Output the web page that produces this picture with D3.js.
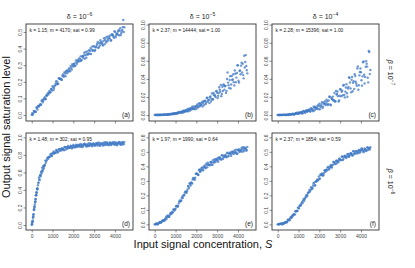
<!DOCTYPE html>
<html>
<head>
<meta charset="utf-8">
<script src="https://cdn.jsdelivr.net/npm/d3@7"></script>
<style>
  body { margin: 0; background: #fff; }
  text { font-family: "Liberation Sans", Arial, sans-serif; }
</style>
</head>
<body>
<svg id="chart" width="415" height="268"></svg>
<script>
// input signal concentration S (shared by all panels)
const inputS = [0,50,100,150,200,250,300,350,400,450,500,550,600,650,700,750,800,850,900,950,
  1000,1050,1100,1150,1200,1250,1300,1350,1400,1450,1500,1550,1600,1650,1700,1750,1800,1850,1900,1950,
  2000,2050,2100,2150,2200,2250,2300,2350,2400,2450,2500,2550,2600,2650,2700,2750,2800,2850,2900,2950,
  3000,3050,3100,3150,3200,3250,3300,3350,3400,3450,3500,3550,3600,3650,3700,3750,3800,3850,3900,3950,
  4000,4050,4100,4150,4200,4250,4300,4350,4400,4450];
// second run, read between the first run's points
const midS = [25,75,125,175,225,275,325,375,425,475,525,575,625,675,725,775,825,875,925,975,
  1025,1075,1125,1175,1225,1275,1325,1375,1425,1475,1525,1575,1625,1675,1725,1775,1825,1875,1925,1975,
  2025,2075,2125,2175,2225,2275,2325,2375,2425,2475,2525,2575,2625,2675,2725,2775,2825,2875,2925,2975,
  3025,3075,3125,3175,3225,3275,3325,3375,3425,3475,3525,3575,3625,3675,3725,3775,3825,3875,3925,3975,
  4025,4075,4125,4175,4225,4275,4325,4375,4425];

// output saturation level, one array per panel and run
const satA = [0.002,0.002,0.025,0.021,0.019,0.042,0.053,0.051,0.064,0.062,0.090,0.085,0.099,0.095,0.119,0.121,0.124,0.145,0.137,0.155,
  0.174,0.151,0.177,0.190,0.185,0.187,0.221,0.218,0.218,0.212,0.244,0.233,0.250,0.266,0.251,0.263,0.282,0.263,0.285,0.306,
  0.292,0.311,0.297,0.317,0.331,0.325,0.323,0.353,0.332,0.354,0.358,0.339,0.380,0.364,0.364,0.391,0.386,0.367,0.412,0.391,
  0.412,0.392,0.411,0.430,0.403,0.432,0.450,0.430,0.425,0.446,0.426,0.466,0.444,0.459,0.473,0.460,0.447,0.487,0.483,0.465,
  0.502,0.479,0.490,0.503,0.480,0.522,0.492,0.512,0.572,0.528];
const satA2 = [0.011,0.010,0.021,0.020,0.045,0.033,0.055,0.058,0.063,0.085,0.076,0.095,0.107,0.098,0.114,0.131,0.134,0.136,0.157,0.147,
  0.167,0.162,0.177,0.203,0.200,0.189,0.220,0.216,0.212,0.237,0.231,0.258,0.234,0.259,0.272,0.262,0.272,0.295,0.274,0.298,
  0.306,0.295,0.328,0.309,0.322,0.340,0.336,0.327,0.353,0.345,0.375,0.361,0.345,0.383,0.371,0.369,0.403,0.395,0.386,0.415,
  0.385,0.407,0.421,0.440,0.408,0.419,0.440,0.437,0.418,0.462,0.452,0.437,0.472,0.449,0.463,0.479,0.451,0.481,0.473,0.503,
  0.468,0.491,0.485,0.510,0.508,0.481,0.503,0.528,0.500];
const satB = [0.0002,0.0000,0.0001,0.0003,0.0000,0.0000,0.0003,0.0000,0.0003,0.0006,0.0002,0.0006,0.0003,0.0007,0.0011,0.0008,0.0008,0.0018,0.0010,0.0018,
  0.0020,0.0014,0.0029,0.0023,0.0024,0.0035,0.0035,0.0026,0.0051,0.0039,0.0053,0.0041,0.0055,0.0070,0.0050,0.0073,0.0091,0.0074,0.0070,0.0091,
  0.0070,0.0116,0.0091,0.0111,0.0130,0.0113,0.0095,0.0155,0.0152,0.0123,0.0188,0.0149,0.0169,0.0196,0.0150,0.0238,0.0174,0.0220,0.0212,0.0262,
  0.0247,0.0213,0.0308,0.0257,0.0209,0.0313,0.0339,0.0281,0.0323,0.0267,0.0470,0.0329,0.0387,0.0293,0.0431,0.0393,0.0364,0.0493,0.0364,0.0465,
  0.0549,0.0360,0.0494,0.0546,0.0470,0.0442,0.0656,0.0587,0.0542,0.0461];
const satB2 = [0.0002,0.0000,0.0001,0.0000,0.0004,0.0000,0.0003,0.0002,0.0002,0.0006,0.0002,0.0006,0.0009,0.0003,0.0007,0.0013,0.0012,0.0011,0.0020,0.0011,
  0.0021,0.0017,0.0023,0.0035,0.0032,0.0024,0.0042,0.0039,0.0034,0.0051,0.0044,0.0066,0.0041,0.0063,0.0075,0.0061,0.0070,0.0095,0.0065,0.0094,
  0.0102,0.0083,0.0132,0.0096,0.0114,0.0144,0.0134,0.0111,0.0159,0.0138,0.0192,0.0165,0.0132,0.0205,0.0178,0.0170,0.0243,0.0225,0.0199,0.0267,
  0.0189,0.0243,0.0279,0.0332,0.0234,0.0266,0.0330,0.0318,0.0245,0.0399,0.0359,0.0298,0.0430,0.0337,0.0387,0.0451,0.0327,0.0457,0.0414,0.0552,
  0.0379,0.0487,0.0451,0.0579,0.0568,0.0406,0.0525,0.0663,0.0495];
const satC = [0.0001,0.0000,0.0000,0.0002,0.0000,0.0002,0.0005,0.0002,0.0001,0.0004,0.0000,0.0009,0.0005,0.0009,0.0013,0.0010,0.0006,0.0019,0.0019,0.0013,
  0.0028,0.0019,0.0025,0.0033,0.0021,0.0046,0.0028,0.0043,0.0041,0.0057,0.0053,0.0042,0.0076,0.0059,0.0043,0.0081,0.0092,0.0070,0.0088,0.0065,
  0.0126,0.0092,0.0117,0.0077,0.0138,0.0122,0.0110,0.0171,0.0111,0.0160,0.0202,0.0109,0.0177,0.0204,0.0164,0.0150,0.0266,0.0232,0.0209,0.0160,
  0.0285,0.0208,0.0270,0.0327,0.0221,0.0259,0.0341,0.0202,0.0310,0.0412,0.0294,0.0389,0.0263,0.0375,0.0452,0.0369,0.0324,0.0537,0.0329,0.0476,
  0.0474,0.0325,0.0584,0.0446,0.0422,0.0595,0.0536,0.0361,0.0698,0.0498];
const satC2 = [0.0002,0.0001,0.0000,0.0002,0.0000,0.0004,0.0002,0.0000,0.0005,0.0003,0.0002,0.0010,0.0009,0.0006,0.0014,0.0006,0.0013,0.0018,0.0025,0.0013,
  0.0018,0.0028,0.0028,0.0017,0.0043,0.0038,0.0028,0.0053,0.0037,0.0047,0.0062,0.0038,0.0067,0.0059,0.0092,0.0053,0.0080,0.0072,0.0107,0.0106,
  0.0064,0.0099,0.0141,0.0092,0.0128,0.0154,0.0127,0.0149,0.0119,0.0203,0.0118,0.0191,0.0174,0.0161,0.0244,0.0153,0.0227,0.0260,0.0149,0.0213,
  0.0282,0.0257,0.0219,0.0333,0.0195,0.0305,0.0241,0.0294,0.0416,0.0360,0.0251,0.0420,0.0357,0.0289,0.0432,0.0347,0.0515,0.0280,0.0439,0.0514,
  0.0384,0.0428,0.0592,0.0348,0.0534,0.0566,0.0412,0.0709,0.0453];
const satD = [0.003,0.051,0.175,0.236,0.341,0.413,0.454,0.542,0.568,0.602,0.655,0.673,0.677,0.735,0.730,0.762,0.755,0.780,0.805,0.787,
  0.819,0.839,0.825,0.823,0.845,0.828,0.866,0.847,0.863,0.876,0.865,0.852,0.889,0.886,0.869,0.902,0.880,0.889,0.900,0.878,
  0.915,0.886,0.902,0.898,0.914,0.907,0.893,0.924,0.905,0.889,0.919,0.924,0.905,0.915,0.899,0.935,0.911,0.923,0.899,0.929,
  0.919,0.911,0.935,0.908,0.925,0.940,0.903,0.925,0.933,0.917,0.912,0.946,0.933,0.925,0.909,0.941,0.919,0.933,0.944,0.919,
  0.926,0.941,0.911,0.931,0.949,0.925,0.941,0.917,0.935,0.946];
const satD2 = [0.034,0.100,0.196,0.268,0.372,0.406,0.484,0.523,0.556,0.613,0.614,0.657,0.685,0.709,0.741,0.771,0.776,0.778,0.811,0.791,
  0.820,0.813,0.829,0.856,0.850,0.835,0.866,0.859,0.851,0.875,0.865,0.890,0.860,0.883,0.893,0.878,0.884,0.904,0.876,0.898,
  0.902,0.886,0.917,0.891,0.900,0.916,0.907,0.893,0.916,0.904,0.927,0.912,0.895,0.924,0.911,0.905,0.930,0.921,0.910,0.931,
  0.904,0.918,0.927,0.939,0.910,0.917,0.931,0.926,0.906,0.941,0.930,0.914,0.941,0.919,0.928,0.938,0.913,0.936,0.926,0.948,
  0.916,0.933,0.925,0.943,0.940,0.914,0.930,0.949,0.923];
// extra readings on the steep rise of panel (d)
const riseS = [10,20,30,40,60,70,80,90,110,120,130,140,160,170,180,190,210,220,230,240,260,280,320,370,420,470,520,570,620];
const riseD = [0.012,0.009,0.038,0.035,0.084,0.088,0.121,0.122,0.172,0.178,0.212,0.210,0.263,0.262,0.297,0.294,0.341,0.339,0.372,0.368,
  0.410,0.419,0.481,0.512,0.568,0.586,0.632,0.642,0.680];
const satE = [0.000,0.000,0.007,0.001,0.009,0.017,0.011,0.021,0.027,0.028,0.028,0.053,0.052,0.054,0.052,0.075,0.071,0.087,0.102,0.096,
  0.108,0.127,0.121,0.143,0.164,0.161,0.182,0.181,0.202,0.220,0.223,0.228,0.265,0.250,0.278,0.289,0.282,0.320,0.314,0.322,
  0.349,0.350,0.340,0.378,0.367,0.387,0.374,0.390,0.406,0.387,0.410,0.425,0.411,0.408,0.425,0.411,0.442,0.426,0.439,0.450,
  0.441,0.432,0.463,0.460,0.448,0.476,0.460,0.468,0.479,0.462,0.494,0.472,0.488,0.485,0.501,0.497,0.486,0.512,0.498,0.486,
  0.512,0.518,0.504,0.514,0.501,0.532,0.514,0.525,0.508,0.533];
const satE2 = [0.000,0.007,0.000,0.007,0.013,0.012,0.017,0.027,0.023,0.034,0.042,0.038,0.062,0.052,0.064,0.079,0.082,0.081,0.102,0.102,
  0.125,0.127,0.127,0.155,0.157,0.165,0.191,0.197,0.202,0.226,0.217,0.241,0.260,0.283,0.268,0.285,0.309,0.314,0.307,0.349,
  0.348,0.341,0.373,0.361,0.376,0.392,0.373,0.398,0.394,0.419,0.394,0.413,0.410,0.430,0.430,0.411,0.429,0.449,0.430,0.447,
  0.458,0.448,0.457,0.448,0.477,0.451,0.474,0.470,0.468,0.491,0.469,0.488,0.496,0.472,0.488,0.503,0.498,0.492,0.514,0.489,
  0.510,0.499,0.509,0.529,0.520,0.504,0.530,0.521,0.512];
const satF = [0.000,0.001,0.004,0.003,0.000,0.009,0.006,0.011,0.017,0.016,0.034,0.028,0.042,0.046,0.061,0.064,0.067,0.090,0.090,0.092,
  0.115,0.128,0.130,0.145,0.148,0.175,0.176,0.192,0.192,0.216,0.222,0.227,0.255,0.244,0.268,0.288,0.270,0.295,0.309,0.307,
  0.312,0.344,0.342,0.344,0.341,0.371,0.362,0.378,0.393,0.381,0.392,0.409,0.392,0.412,0.431,0.419,0.435,0.422,0.439,0.452,
  0.445,0.443,0.469,0.449,0.468,0.470,0.457,0.484,0.473,0.473,0.491,0.487,0.474,0.504,0.489,0.503,0.489,0.501,0.513,0.495,
  0.513,0.524,0.510,0.506,0.519,0.505,0.530,0.514,0.524,0.532];
const satF2 = [0.000,0.000,0.003,0.007,0.001,0.005,0.012,0.014,0.013,0.027,0.031,0.030,0.051,0.047,0.058,0.072,0.069,0.090,0.094,0.115,
  0.110,0.129,0.136,0.156,0.165,0.163,0.182,0.202,0.201,0.219,0.237,0.237,0.252,0.251,0.284,0.268,0.295,0.298,0.303,0.330,
  0.316,0.338,0.351,0.335,0.354,0.373,0.373,0.372,0.396,0.379,0.401,0.396,0.408,0.430,0.426,0.415,0.440,0.435,0.430,0.451,
  0.444,0.466,0.443,0.462,0.473,0.462,0.468,0.486,0.465,0.484,0.489,0.477,0.504,0.484,0.494,0.507,0.502,0.491,0.511,0.502,
  0.522,0.511,0.498,0.523,0.513,0.510,0.531,0.525,0.517];

// tick labels
const xTicks = [0, 1000, 2000, 3000, 4000];
const yTicksTop = [0, 0.1, 0.2, 0.3, 0.4, 0.5];
const yTicksSmall = [0, 0.02, 0.04, 0.06, 0.08, 0.1];
const yTicksD = [0, 0.2, 0.4, 0.6, 0.8, 1.0];
const yTicksEF = [0, 0.1, 0.2, 0.3, 0.4, 0.5, 0.6];

// strip labels (exponents of 10)
const deltaExp = ["−6", "−5", "−4"];
const betaExp = ["−7", "−6"];

const fits = [
  "k = 1.15; m = 4170; sat = 0.99",
  "k = 2.37; m = 14444; sat = 1.00",
  "k = 2.28; m = 15396; sat = 1.00",
  "k = 1.48; m = 302; sat = 0.95",
  "k = 1.97; m = 1990; sat = 0.64",
  "k = 2.37; m = 1854; sat = 0.59"
];
const letters = ["(a)", "(b)", "(c)", "(d)", "(e)", "(f)"];

const svg = d3.select("#chart");
const colX = [26, 149, 272];
const rowY = [24, 133];
const pw = 107, ph = 97;
const dotColor = "#3f78c4";

const panels = [
  { ys: [satA, satA2], xs: [inputS, midS], dom: [-0.036, 0.548], ticks: yTicksTop, fmt: ".1f" },
  { ys: [satB, satB2], xs: [inputS, midS], dom: [-0.0066, 0.1007], ticks: yTicksSmall, fmt: ".2f" },
  { ys: [satC, satC2], xs: [inputS, midS], dom: [-0.0066, 0.1007], ticks: yTicksSmall, fmt: ".2f" },
  { ys: [satD, satD2, riseD], xs: [inputS, midS, riseS], dom: [-0.057, 1.05], ticks: yTicksD, fmt: ".1f" },
  { ys: [satE, satE2], xs: [inputS, midS], dom: [-0.039, 0.63], ticks: yTicksEF, fmt: ".1f" },
  { ys: [satF, satF2], xs: [inputS, midS], dom: [-0.039, 0.63], ticks: yTicksEF, fmt: ".1f" }
];

panels.forEach((p, i) => {
  const col = i % 3, row = Math.floor(i / 3);
  const g = svg.append("g")
    .attr("transform", `translate(${colX[col]},${rowY[row]})`);

  const x = d3.scaleLinear().domain([-275, 4867]).range([0, pw]);
  const y = d3.scaleLinear().domain(p.dom).range([ph, 0]);

  // points
  p.ys.forEach((series, k) => {
    g.selectAll(null)
      .data(series.map((v, j) => [p.xs[k][j], v]))
      .enter()
      .append("circle")
      .attr("cx", d => x(d[0]))
      .attr("cy", d => y(d[1]))
      .attr("r", 1.2)
      .attr("fill", dotColor)
      .attr("fill-opacity", 0.75);
  });

  // x axis
  const xa = g.append("g")
    .attr("transform", `translate(0,${ph})`)
    .call(d3.axisBottom(x).tickValues(xTicks).tickSize(2.5).tickPadding(1.5)
      .tickFormat(row === 1 ? d3.format("d") : ""));
  xa.select(".domain").remove();
  xa.selectAll("line").attr("stroke", "#444").attr("stroke-width", 0.6);
  xa.selectAll("text").attr("font-size", 5).attr("fill", "#444");

  // y axis, labels turned
  const ya = g.append("g")
    .call(d3.axisLeft(y).tickValues(p.ticks).tickSize(2.5).tickFormat(d3.format(p.fmt)));
  ya.select(".domain").remove();
  ya.selectAll("line").attr("stroke", "#444").attr("stroke-width", 0.6);
  ya.selectAll("text")
    .attr("font-size", 5)
    .attr("fill", "#444")
    .attr("x", 0)
    .attr("y", -4)
    .attr("dy", 0)
    .attr("text-anchor", "middle")
    .attr("transform", "rotate(-90)");

  // frame
  g.append("rect")
    .attr("width", pw).attr("height", ph)
    .attr("fill", "none").attr("stroke", "#333").attr("stroke-width", 0.9);

  // fitted parameters
  g.append("text")
    .attr("x", 3.5).attr("y", 7.5)
    .attr("font-size", 4.9).attr("fill", "#222")
    .text(fits[i]);

  // panel letter
  g.append("text")
    .attr("x", pw - 3).attr("y", ph - 4)
    .attr("text-anchor", "end")
    .attr("font-size", 6.5).attr("fill", "#222")
    .text(letters[i]);
});

// column titles
deltaExp.forEach((e, c) => {
  const t = svg.append("text")
    .attr("x", colX[c] + pw / 2).attr("y", 19)
    .attr("text-anchor", "middle")
    .attr("font-size", 7).attr("fill", "#222");
  t.append("tspan").text("δ = 10");
  t.append("tspan").attr("dy", -2.8).attr("font-size", 5).text(e);
});

// row labels on the right
betaExp.forEach((e, r) => {
  const t = svg.append("text")
    .attr("transform", `translate(388,${rowY[r] + ph / 2}) rotate(90)`)
    .attr("text-anchor", "middle")
    .attr("font-size", 7).attr("fill", "#222");
  t.append("tspan").attr("font-style", "italic").text("β");
  t.append("tspan").text(" = 10");
  t.append("tspan").attr("dy", -2.8).attr("font-size", 5).text(e);
});

// axis titles
svg.append("text")
  .attr("transform", `translate(10,127) rotate(-90)`)
  .attr("text-anchor", "middle")
  .attr("font-size", 11).attr("fill", "#111")
  .text("Output signal saturation level");

const xl = svg.append("text")
  .attr("x", 203).attr("y", 248)
  .attr("text-anchor", "middle")
  .attr("font-size", 11).attr("fill", "#111");
xl.append("tspan").text("Input signal concentration, ");
xl.append("tspan").attr("font-style", "italic").text("S");
</script>
</body>
</html>
